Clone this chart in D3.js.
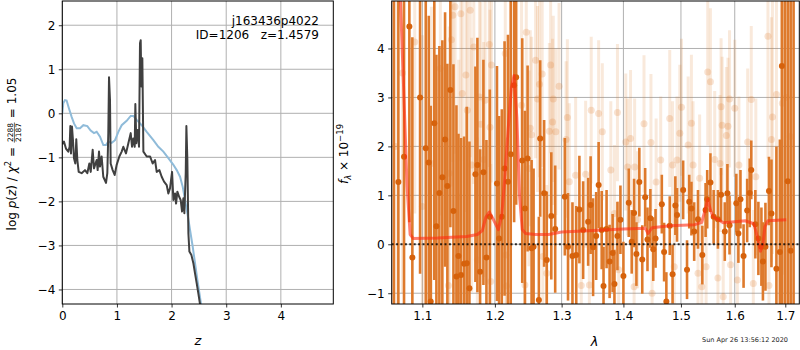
<!DOCTYPE html>
<html>
<head>
<meta charset="utf-8">
<script src="https://cdn.jsdelivr.net/npm/d3@7"></script>
<style>
  body { margin: 0; background: #fff; }
  svg { display: block; font-family: "DejaVu Sans", sans-serif; }
</style>
</head>
<body>
<div id="chart"></div>
<script>
/* global d3 */

// ---- left panel: log p(z) ----
const zDark = [0, 0.03, 0.067, 0.11, 0.134, 0.147, 0.159, 0.177, 0.195, 0.214, 0.238, 0.256, 0.275, 0.30, 0.354, 0.415, 0.458, 0.495, 0.52, 0.556, 0.58, 0.629, 0.647, 0.672, 0.69, 0.72, 0.75, 0.80, 0.824, 0.842, 0.855, 0.873, 0.885, 0.922, 0.958, 0.995, 1.044, 1.087, 1.117, 1.166, 1.209, 1.252, 1.276, 1.30, 1.325, 1.337, 1.355, 1.38, 1.404, 1.422, 1.435, 1.447, 1.465, 1.484, 1.545, 1.606, 1.654, 1.697, 1.728, 1.777, 1.819, 1.862, 1.911, 1.941, 1.972, 2.009, 2.033, 2.063, 2.082, 2.106, 2.137, 2.167, 2.192, 2.216, 2.234, 2.259, 2.271, 2.289, 2.308, 2.326, 2.363, 2.40, 2.43, 2.46, 2.49, 2.52, 2.55]
const lnpDark = [-0.70, -0.64, -0.80, -0.87, -0.76, -0.29, -0.91, -0.30, -0.61, -1.02, -1.14, -0.59, -1.06, -1.33, -1.36, -1.29, -1.36, -1.14, -1.33, -0.83, -1.25, -1.06, -1.29, -0.87, -1.21, -0.98, -1.44, -1.58, -1.36, -0.45, 0.82, 0.30, -1.14, -1.29, -1.40, -1.17, -0.98, -0.87, -0.76, -0.91, -0.68, -0.45, -0.76, -0.57, -0.76, 0.21, -0.68, -0.38, -0.76, 1.59, 1.66, 0.61, 1.25, -0.87, -0.98, -0.98, -1.14, -1.06, -1.33, -1.29, -1.44, -1.55, -1.63, -1.82, -1.70, -1.33, -1.97, -1.82, -2.05, -1.78, -1.89, -1.97, -2.23, -1.93, -2.27, -1.36, -0.29, -1.06, -2.73, -3.14, -3.22, -3.41, -3.64, -3.86, -4.09, -4.33, -4.55]

const zBlue = [0, 0.018, 0.049, 0.079, 0.122, 0.171, 0.214, 0.263, 0.324, 0.385, 0.458, 0.519, 0.58, 0.629, 0.69, 0.751, 0.80, 0.842, 0.904, 0.965, 1.026, 1.087, 1.178, 1.252, 1.30, 1.361, 1.453, 1.545, 1.667, 1.758, 1.85, 1.941, 2.033, 2.094, 2.155, 2.204, 2.247, 2.29, 2.338, 2.387, 2.43, 2.473, 2.51, 2.546]
const lnpBlue = [0.0, 0.23, 0.30, 0.29, 0.11, -0.08, -0.23, -0.34, -0.34, -0.27, -0.29, -0.39, -0.45, -0.42, -0.53, -0.72, -0.72, -0.64, -0.67, -0.61, -0.42, -0.27, -0.17, -0.06, -0.06, -0.15, -0.27, -0.42, -0.61, -0.76, -0.87, -1.02, -1.17, -1.29, -1.44, -1.67, -1.97, -2.27, -2.65, -3.03, -3.41, -3.79, -4.09, -4.39]

const zTicks = [0, 1, 2, 3, 4]
const lnpTicks = [-4, -3, -2, -1, 0, 1, 2]

// ---- right panel: spectrum ----
// main spectrum (dark)
const waveA = [1.063, 1.0688, 1.0761, 1.0830, 1.0869, 1.0970, 1.1045, 1.1085, 1.1111, 1.1159, 1.1187, 1.1227, 1.1267, 1.1304, 1.1335, 1.1376, 1.1418, 1.1459, 1.1487, 1.1523, 1.1565, 1.1602, 1.1639, 1.1723, 1.1751, 1.1789, 1.1836, 1.1879, 1.1927, 1.203, 1.206, 1.210, 1.214, 1.219, 1.223, 1.228, 1.231, 1.240, 1.244, 1.248, 1.254, 1.257, 1.265, 1.267, 1.273, 1.277, 1.284, 1.290, 1.305, 1.310, 1.317, 1.323, 1.328, 1.334, 1.342, 1.346, 1.350, 1.355, 1.359, 1.364, 1.367, 1.372, 1.377, 1.382, 1.385, 1.390, 1.395, 1.400, 1.409, 1.414, 1.418, 1.422, 1.427, 1.432, 1.437, 1.441, 1.446, 1.451, 1.455, 1.466, 1.470, 1.474, 1.480, 1.485, 1.490, 1.493, 1.504, 1.511, 1.515, 1.519, 1.524, 1.531, 1.539, 1.545, 1.548, 1.554, 1.560, 1.568, 1.574, 1.581, 1.586, 1.590, 1.603, 1.607, 1.611, 1.617, 1.624, 1.629, 1.632, 1.640, 1.646, 1.652, 1.655, 1.660, 1.667, 1.672, 1.682, 1.689, 1.693, 1.699, 1.705, 1.711, 1.717]
const fluxA = [5.5, 1.27, 1.79, 4.45, -0.27, 3.00, 1.96, 1.67, -1.17, 2.47, 0.37, 1.05, 1.37, 2.14, 1.19, 3.15, 0.68, -0.66, -0.24, -0.63, -0.40, -0.39, -0.90, 1.43, 1.62, -0.56, 1.47, -0.27, 0.56, 1.24, 0.12, 0.56, 1.55, 1.28, 1.84, 3.25, 3.41, 1.71, 0.73, 1.75, -0.08, -0.05, -1.14, 2.16, 1.04, -0.32, 0.58, 0.31, 0.97, -0.05, -0.24, -0.22, 0.71, 0.29, 0.46, 0.80, -0.06, 0.17, 1.21, 0.29, -0.85, 0.31, -0.35, -0.18, -0.81, 0.17, 0.50, -0.65, 0.85, 0.05, 0.64, -0.20, 1.27, -0.31, 0.96, 0.10, 0.53, -0.10, 0.12, 0.82, -0.16, -1.17, 0.38, -0.61, 0.79, 0.60, 1.11, -0.52, 0.87, 0.73, 0.26, 0.51, -0.22, 0.70, 0.92, 1.26, 0.56, 0.51, 1.01, 0.26, 1.04, 0.39, 0.84, 0.22, 0.92, -0.24, 0.69, 1.05, 1.52, 0.41, 0.12, -0.05, -0.35, -0.05, 1.09, 0.63, -0.50, -0.16, 3.64, 6.0, 1.29, -0.13, 5.5]
const errA = [7.0, 4.5, 4.0, 4.0, 4.5, 3.6, 3.5, 3.0, 4.0, 3.2, 3.5, 3.0, 2.8, 2.6, 2.5, 2.8, 3.0, 3.5, 2.5, 2.8, 2.6, 3.2, 3.0, 2.2, 2.6, 2.5, 2.3, 2.4, 2.6, 2.4, 2.5, 2.2, 2.6, 3.0, 3.2, 2.8, 2.6, 2.5, 2.0, 1.9, 1.8, 1.6, 1.7, 1.6, 1.5, 1.4, 1.3, 1.3, 1.2, 1.1, 1.1, 1.0, 1.1, 1.0, 0.9, 1.0, 1.0, 0.9, 0.88, 0.8, 0.8, 0.8, 0.75, 0.8, 0.7, 0.7, 0.7, 0.7, 0.7, 0.65, 0.7, 0.65, 0.7, 0.7, 0.6, 0.65, 0.6, 0.65, 0.6, 0.6, 0.6, 0.6, 0.6, 0.6, 0.6, 0.55, 0.6, 0.6, 0.55, 0.55, 0.6, 0.6, 0.6, 0.55, 0.6, 0.6, 0.55, 0.6, 0.55, 0.6, 0.6, 0.6, 0.6, 0.6, 0.6, 0.65, 0.65, 0.7, 0.6, 0.7, 0.75, 0.8, 0.8, 0.9, 0.7, 1.1, 2.5, 2.3, 6.0, 8.0, 7.0, 7.0, 7.0]

// second orientation (faded)
const waveB = [1.065, 1.074, 1.090, 1.100, 1.112, 1.124, 1.135, 1.136, 1.139, 1.141, 1.144, 1.149, 1.152, 1.154, 1.159, 1.161, 1.165, 1.167, 1.170, 1.175, 1.178, 1.180, 1.184, 1.186, 1.192, 1.193, 1.194, 1.195, 1.215, 1.216, 1.217, 1.239, 1.244, 1.246, 1.250, 1.252, 1.254, 1.260, 1.263, 1.266, 1.270, 1.271, 1.277, 1.281, 1.283, 1.286, 1.287, 1.291, 1.296, 1.307, 1.309, 1.312, 1.322, 1.331, 1.338, 1.344, 1.347, 1.359, 1.365, 1.379, 1.385, 1.390, 1.392, 1.404, 1.407, 1.412, 1.418, 1.419, 1.424, 1.435, 1.447, 1.449, 1.456, 1.464, 1.480, 1.485, 1.488, 1.493, 1.498, 1.501, 1.513, 1.519, 1.522, 1.531, 1.534, 1.538, 1.546, 1.549, 1.554, 1.562, 1.568, 1.572, 1.574, 1.576, 1.578, 1.584, 1.587, 1.590, 1.592, 1.600, 1.605, 1.608, 1.625, 1.632, 1.636, 1.641, 1.665, 1.667, 1.672, 1.674, 1.682, 1.694, 1.702, 1.710]
const fluxB = [2.0, 3.5, 4.13, 0.77, 1.65, 3.59, -0.84, 1.45, 4.18, 4.68, 4.85, 0.97, 4.71, 3.08, 3.46, 2.74, 4.78, 1.62, 4.03, -0.32, 3.01, 2.45, 1.73, 2.94, 4.08, 2.39, -0.76, 3.66, 3.90, -0.22, -0.85, 2.84, -0.83, 4.33, 1.55, 2.37, 2.24, 3.76, 2.97, 3.27, 3.48, -0.25, -0.59, 2.31, 3.66, 2.50, 2.97, 2.30, 3.23, 2.14, 2.59, 1.28, 1.41, -0.84, 1.43, -0.83, 2.74, 2.67, 2.30, 1.52, 0.63, 2.69, -0.52, 2.09, 1.58, 2.16, -0.87, 1.58, 0.50, 2.46, 2.08, -1.00, 1.27, 1.72, 2.57, 1.62, -0.46, 1.72, 2.27, 2.80, 2.03, 2.47, 1.62, -0.59, 1.35, -0.87, -0.46, 3.52, 3.32, 1.73, -0.69, 1.65, 2.81, 2.43, -1.07, 2.22, 2.41, 2.97, -0.42, 2.78, -0.73, 1.62, 2.09, 2.96, -0.80, 1.38, 4.25, -0.84, 2.14, 2.60, 3.06, 2.88, 3.0, 2.2]
const errB = [5.0, 4.5, 3.5, 3.5, 3.2, 3.0, 3.0, 3.0, 3.0, 3.0, 3.0, 2.8, 3.0, 2.8, 2.8, 2.6, 3.0, 2.6, 2.8, 2.5, 2.5, 2.5, 2.4, 2.4, 2.5, 2.4, 2.4, 2.4, 2.5, 2.4, 2.4, 2.2, 2.0, 2.2, 2.0, 2.0, 2.0, 2.0, 1.9, 1.9, 1.9, 1.8, 1.8, 1.8, 1.8, 1.7, 1.7, 1.7, 1.7, 1.6, 1.6, 1.6, 1.6, 1.5, 1.5, 1.5, 1.5, 1.5, 1.4, 1.4, 1.4, 1.4, 1.4, 1.4, 1.4, 1.4, 1.4, 1.4, 1.4, 1.4, 1.4, 1.4, 1.3, 1.3, 1.4, 1.3, 1.3, 1.3, 1.4, 1.4, 1.4, 1.4, 1.3, 1.3, 1.3, 1.3, 1.3, 1.5, 1.5, 1.4, 1.3, 1.4, 1.4, 1.4, 1.3, 1.4, 1.4, 1.4, 1.3, 1.4, 1.4, 1.4, 1.5, 1.5, 1.5, 1.6, 2.5, 2.0, 2.5, 2.8, 3.0, 3.5, 4.0, 4.0]

// best-fit model
const waveModel = [1.062, 1.0715, 1.076, 1.080, 1.084, 1.088, 1.12, 1.16, 1.175, 1.182, 1.187, 1.192, 1.198, 1.205, 1.210, 1.214, 1.219, 1.224, 1.228, 1.232, 1.236, 1.240, 1.245, 1.26, 1.28, 1.30, 1.35, 1.40, 1.437, 1.442, 1.449, 1.48, 1.525, 1.538, 1.544, 1.549, 1.554, 1.559, 1.568, 1.578, 1.600, 1.620, 1.637, 1.644, 1.650, 1.655, 1.659, 1.665, 1.702]
const fluxModel = [8.0, 4.97, 3.0, 1.2, 0.2, 0.12, 0.13, 0.16, 0.2, 0.28, 0.55, 0.66, 0.5, 0.3, 0.6, 1.3, 2.3, 3.2, 3.45, 2.6, 1.0, 0.3, 0.22, 0.2, 0.2, 0.25, 0.28, 0.31, 0.33, 0.22, 0.34, 0.38, 0.40, 0.45, 0.7, 0.92, 0.7, 0.56, 0.51, 0.44, 0.46, 0.48, 0.42, 0.15, -0.14, 0.0, 0.36, 0.48, 0.5]

const waveTicks = [1.1, 1.2, 1.3, 1.4, 1.5, 1.6, 1.7]
const fluxTicks = [-1, 0, 1, 2, 3, 4]

// Our canvas
const width = 800,
    height = 350

const L = { x0: 62.3, x1: 333.3, y0: 1, y1: 304 }
const R = { x0: 391.7, x1: 799.3, y0: 1, y1: 304 }

const grid = '#b0b0b0',
    orange = '#de7a2c',
    orangeDot = '#d6620c'

let svg = d3.select('#chart')
    .append('svg')
    .attr('width', width)
    .attr('height', height)

const xz = d3.scaleLinear().domain([0, 4.96]).range([L.x0, L.x1])
const ylp = d3.scaleLinear().domain([-4.33, 2.55]).range([L.y1, L.y0])
const xw = d3.scaleLog().domain([1.0603, 1.7288]).range([R.x0, R.x1])
const yf = d3.scaleLinear().domain([-1.22, 4.97]).range([R.y1, R.y0])

// clip paths
let defs = svg.append('defs')
defs.append('clipPath').attr('id', 'clipL')
    .append('rect').attr('x', L.x0).attr('y', L.y0)
    .attr('width', L.x1 - L.x0).attr('height', L.y1 - L.y0)
defs.append('clipPath').attr('id', 'clipR')
    .append('rect').attr('x', R.x0).attr('y', R.y0)
    .attr('width', R.x1 - R.x0).attr('height', R.y1 - R.y0)

// grid + axes helper
let drawAxes = (P, xs, ys, xt, yt, xfmt) => {
    let g = svg.append('g')
    g.selectAll('.gx').data(xt).enter().append('line')
        .attr('x1', d => xs(d)).attr('x2', d => xs(d))
        .attr('y1', P.y0).attr('y2', P.y1)
        .attr('stroke', grid).attr('stroke-width', 1)
    g.selectAll('.gy').data(yt).enter().append('line')
        .attr('x1', P.x0).attr('x2', P.x1)
        .attr('y1', d => ys(d)).attr('y2', d => ys(d))
        .attr('stroke', grid).attr('stroke-width', 1)

    let ax = svg.append('g')
        .attr('transform', `translate(0,${P.y1})`)
        .call(d3.axisBottom(xs).tickValues(xt).tickSize(3.5).tickPadding(3.5).tickFormat(xfmt))
    let ay = svg.append('g')
        .attr('transform', `translate(${P.x0},0)`)
        .call(d3.axisLeft(ys).tickValues(yt).tickSize(3.5).tickPadding(3.5).tickFormat(d3.format('d')))
    ;[ax, ay].forEach(a => {
        a.select('.domain').remove()
        a.attr('font-family', '"DejaVu Sans", sans-serif').attr('font-size', 12)
        a.selectAll('text').attr('fill', '#000')
        a.selectAll('line').attr('stroke', '#000').attr('stroke-width', 0.8)
    })
}

drawAxes(L, xz, ylp, zTicks, lnpTicks, d3.format('d'))
drawAxes(R, xw, yf, waveTicks, fluxTicks, d3.format('.1f'))

// left panel lines
let lpl = svg.append('g').attr('clip-path', 'url(#clipL)')
let zline = d3.line().x(d => xz(d[0])).y(d => ylp(d[1]))
lpl.append('path')
    .datum(zBlue.map((z, i) => [z, lnpBlue[i]]))
    .attr('d', zline)
    .attr('fill', 'none')
    .attr('stroke', '#8fbbd9')
    .attr('stroke-width', 2)
lpl.append('path')
    .datum(zDark.map((z, i) => [z, lnpDark[i]]))
    .attr('d', zline)
    .attr('fill', 'none')
    .attr('stroke', '#404040')
    .attr('stroke-width', 2)
    .attr('stroke-linejoin', 'round')

// right panel
let rp = svg.append('g').attr('clip-path', 'url(#clipR)')

let specB = waveB.map((w, i) => ({ w: w, f: fluxB[i], e: errB[i] }))
let specA = waveA.map((w, i) => ({ w: w, f: fluxA[i], e: errA[i] }))

rp.selectAll('.ebB').data(specB).enter().append('line')
    .attr('x1', d => xw(d.w)).attr('x2', d => xw(d.w))
    .attr('y1', d => yf(d.f - d.e)).attr('y2', d => yf(d.f + d.e))
    .attr('stroke', orange).attr('stroke-opacity', 0.17).attr('stroke-width', 3)
rp.selectAll('.ptB').data(specB).enter().append('circle')
    .attr('cx', d => xw(d.w)).attr('cy', d => yf(d.f)).attr('r', 3.5)
    .attr('fill', orange).attr('fill-opacity', 0.22)

rp.selectAll('.ebA').data(specA).enter().append('line')
    .attr('x1', d => xw(d.w)).attr('x2', d => xw(d.w))
    .attr('y1', d => yf(d.f - d.e)).attr('y2', d => yf(d.f + d.e))
    .attr('stroke', orange).attr('stroke-width', 2.6)
rp.selectAll('.ptA').data(specA).enter().append('circle')
    .attr('cx', d => xw(d.w)).attr('cy', d => yf(d.f)).attr('r', 3)
    .attr('fill', orangeDot)

rp.append('path')
    .datum(waveModel.map((w, i) => [w, fluxModel[i]]))
    .attr('d', d3.line().x(d => xw(d[0])).y(d => yf(d[1])))
    .attr('fill', 'none')
    .attr('stroke', '#ff2a10')
    .attr('stroke-opacity', 0.6)
    .attr('stroke-width', 3)
    .attr('stroke-linejoin', 'round')

rp.append('line')
    .attr('x1', R.x0).attr('x2', R.x1)
    .attr('y1', yf(0)).attr('y2', yf(0))
    .attr('stroke', '#000').attr('stroke-opacity', 0.8)
    .attr('stroke-width', 2).attr('stroke-dasharray', '2,2.4')

// frames
;[L, R].forEach(P => {
    svg.append('rect')
        .attr('x', P.x0).attr('y', P.y0)
        .attr('width', P.x1 - P.x0).attr('height', P.y1 - P.y0)
        .attr('fill', 'none').attr('stroke', '#000').attr('stroke-width', 1)
})

// annotation
svg.append('text')
    .attr('x', 319).attr('y', 24.5).attr('text-anchor', 'end')
    .attr('font-size', 12).text('j163436p4022')
svg.append('text')
    .attr('x', 319).attr('y', 38.5).attr('text-anchor', 'end')
    .attr('font-size', 12).style('white-space', 'pre')
    .text('ID=1206   z=1.4579')

// x labels
svg.append('text')
    .attr('x', (L.x0 + L.x1) / 2).attr('y', 345).attr('text-anchor', 'middle')
    .attr('font-size', 13).attr('font-style', 'italic').text('z')
svg.append('text')
    .attr('x', (R.x0 + R.x1) / 2 - 1).attr('y', 346).attr('text-anchor', 'middle')
    .attr('font-size', 13).attr('font-style', 'italic').text('λ')

// left y label with fraction
let yl = svg.append('g')
let t1 = yl.append('text').attr('font-size', 12).style('white-space', 'pre')
t1.append('tspan').text('log ')
t1.append('tspan').attr('font-style', 'italic').text('p')
t1.append('tspan').text('(')
t1.append('tspan').attr('font-style', 'italic').text('z')
t1.append('tspan').text(') / ')
t1.append('tspan').attr('font-style', 'italic').text('χ')
t1.append('tspan').attr('font-size', 8.5).attr('dy', -5).text('2')
t1.append('tspan').attr('dy', 5).text(' = ')
let w1 = t1.node().getComputedTextLength()
let num = yl.append('text').attr('font-size', 7.5).attr('y', -2.6).text('2288')
let den = yl.append('text').attr('font-size', 7.5).attr('y', 5.0).text('2187')
let fw = Math.max(num.node().getComputedTextLength(), den.node().getComputedTextLength())
num.attr('x', w1 + 1).attr('textLength', null)
den.attr('x', w1 + 1)
yl.append('line')
    .attr('x1', w1 + 0.5).attr('x2', w1 + fw + 1.5)
    .attr('y1', -1.6).attr('y2', -1.6)
    .attr('stroke', '#000').attr('stroke-width', 0.6)
let t3 = yl.append('text').attr('font-size', 12).style('white-space', 'pre')
    .attr('x', w1 + fw + 2).text(' = 1.05')
let total = w1 + fw + 2 + t3.node().getComputedTextLength()
yl.attr('transform', `translate(16,${154 + total / 2}) rotate(-90)`)

// right y label
let yr = svg.append('text').attr('font-size', 12)
    .attr('text-anchor', 'middle')
    .attr('transform', 'translate(348,154) rotate(-90)')
yr.append('tspan').attr('font-style', 'italic').text('f')
yr.append('tspan').attr('font-style', 'italic').attr('font-size', 8.5).attr('dy', 3).text('λ')
yr.append('tspan').attr('dy', -3).text(' × 10')
yr.append('tspan').attr('font-size', 8.5).attr('dy', -5).text('−19')

// timestamp
svg.append('text')
    .attr('x', 788).attr('y', 342).attr('text-anchor', 'end')
    .attr('font-size', 6.5).attr('fill', '#222')
    .text('Sun Apr 26 13:56:12 2020')
</script>
</body>
</html>
